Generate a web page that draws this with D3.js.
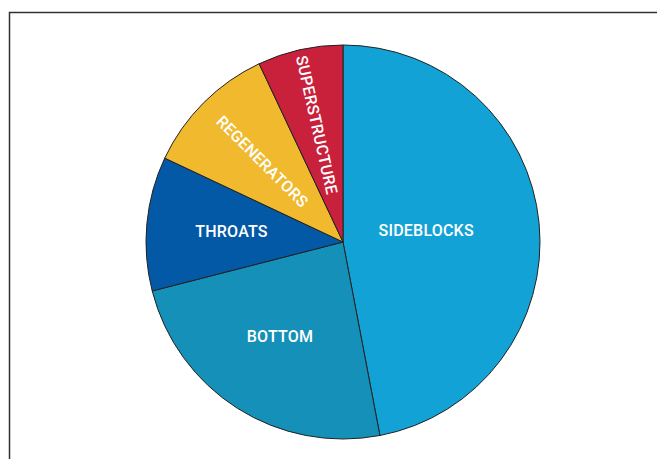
<!DOCTYPE html>
<html>
<head>
<meta charset="utf-8">
<script src="https://cdn.jsdelivr.net/npm/d3@7"></script>
<style>
  html, body { margin: 0; padding: 0; background: #fff; }
  svg { display: block; }
</style>
</head>
<body>
<svg id="chart" width="657" height="459"></svg>
<script>
// Refractory share by zone of the furnace (percent)
const categories = ["SIDEBLOCKS", "BOTTOM", "THROATS", "REGENERATORS", "SUPERSTRUCTURE"];
const values = [47, 24, 11, 11, 7];
const colors = ["#12a2d5", "#1590b8", "#0459a6", "#f0b92e", "#c9203c"];

const width = 657, height = 459;
const cx = 343, cy = 242, radius = 197;

const svg = d3.select("#chart");

// frame lines along the top and left edges
svg.append("path")
  .attr("d", `M9.5,${height} L9.5,12.5 L${width},12.5`)
  .attr("fill", "none")
  .attr("stroke", "#333")
  .attr("stroke-width", 1.5);

const data = categories.map((c, i) => ({ name: c, value: values[i], color: colors[i] }));

const pie = d3.pie().value(d => d.value).sort(null);
const arcs = pie(data);

const arc = d3.arc().innerRadius(0).outerRadius(radius);

const g = svg.append("g").attr("transform", `translate(${cx},${cy})`);

g.selectAll("path.slice")
  .data(arcs)
  .join("path")
  .attr("class", "slice")
  .attr("d", arc)
  .attr("fill", d => d.data.color)
  .attr("stroke", "#222")
  .attr("stroke-width", 1);

// label placement: radius from centre, angular nudge (degrees), and whether text follows the radius
const labelLayout = {
  SIDEBLOCKS:     { r: 84,  turn: -2.5, radial: false },
  BOTTOM:         { r: 113, turn: 1.5,  radial: false },
  THROATS:        { r: 112, turn: 0,    radial: false },
  REGENERATORS:   { r: 114, turn: 0,    radial: true },
  SUPERSTRUCTURE: { r: 120, turn: 0,    radial: true }
};

g.selectAll("text.label")
  .data(arcs)
  .join("text")
  .attr("class", "label")
  .attr("transform", d => {
    const L = labelLayout[d.data.name];
    const mid = (d.startAngle + d.endAngle) / 2 + L.turn * Math.PI / 180;
    const x = L.r * Math.sin(mid), y = -L.r * Math.cos(mid);
    const rot = L.radial ? (mid * 180 / Math.PI - 270) : 0;
    return `translate(${x},${y}) rotate(${rot})`;
  })
  .attr("text-anchor", "middle")
  .attr("dy", "0.36em")
  .attr("fill", "#fff")
  .style("font-family", "Roboto, 'DejaVu Sans', sans-serif")
  .style("font-size", "16px")
  .style("font-weight", "500")
  .style("letter-spacing", "0.2px")
  .text(d => d.data.name);
</script>
</body>
</html>
